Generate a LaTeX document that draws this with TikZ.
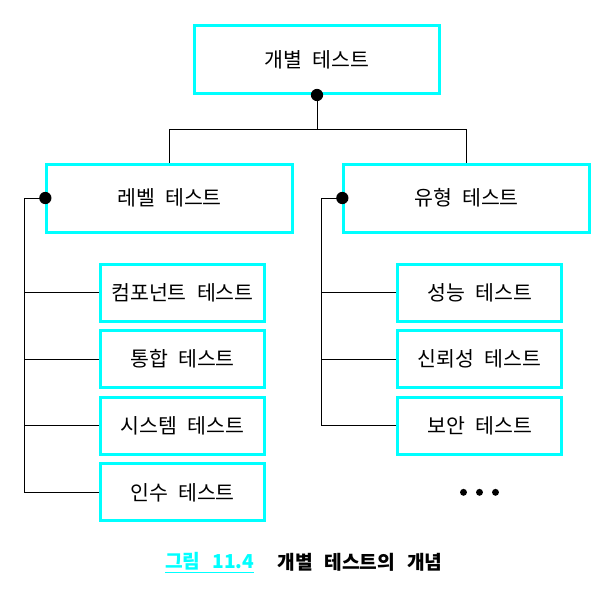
\documentclass[tikz,border=0pt]{standalone}
\usepackage{fontspec}
\setmainfont{Noto Sans CJK KR}
\usetikzlibrary{positioning}
\definecolor{boxcyan}{RGB}{0,255,255}
\newcommand{\boxfont}{\fontsize{15.4}{18}\selectfont\spaceskip=0.5em\relax}
\newcommand{\capfont}{\bfseries\fontsize{14.4}{16}\selectfont\spaceskip=0.62em\relax}
\tikzstyle{bigbox} = [rectangle, draw=boxcyan, line width=2.25pt,
    minimum width=184pt, minimum height=51pt, inner sep=0pt, font=\boxfont]
\tikzstyle{smallbox} = [bigbox, minimum width=123.2pt, minimum height=42.75pt]
\tikzstyle{line} = [draw, line width=0.75pt]
\tikzstyle{joint} = [fill=black]
\tikzstyle{caption} = [font=\capfont]

\begin{document}
\begin{tikzpicture}[x=0.75pt, y=-0.75pt, node distance=4.95pt]
	\useasboundingbox (0,0) rectangle (616,593);

	\node [bigbox] (unit) at (317,59.5) {개별 테스트};

	\node [bigbox] (level) at (169.5,198) {레벨 테스트};
	\node [bigbox] (kind) at (466.5,198) {유형 테스트};

	\node [smallbox] (component) at (182.5,292.5) {컴포넌트 테스트};
	\node [smallbox, below=of component] (integration) {통합 테스트};
	\node [smallbox, below=of integration] (system) {시스템 테스트};
	\node [smallbox, below=of system] (acceptance) {인수 테스트};

	\node [smallbox] (performance) at (479.7,292.5) {성능 테스트};
	\node [smallbox, below=of performance] (reliability) {신뢰성 테스트};
	\node [smallbox, below=of reliability] (security) {보안 테스트};

	\path [line] (unit.south) -- ++(0,34) coordinate (split);
	\path [line] (split) -| (level.north);
	\path [line] (split) -| (kind.north);

	\path [line] (level.west) -- ++(-21,0) coordinate (levelbus);
	\foreach \c in {component,integration,system,acceptance}
		\path [line] (levelbus) |- (\c.west);

	\path [line] (kind.west) -- ++(-20.5,0) coordinate (kindbus);
	\foreach \c in {performance,reliability,security}
		\path [line] (kindbus) |- (\c.west);

	\fill [joint] (unit.south) circle (4.6pt);
	\fill [joint] (level.west) circle (4.6pt);
	\fill [joint] (kind.west) circle (4.6pt);

	\foreach \x in {463.5,479.5,495.5}
		\fill [joint] (\x,492.3) circle (2.6pt);

	\node [caption, text=boxcyan] (fignum) at (209.7,562.5) {\underline{그림 11.4}};
	\node [caption] (figtitle) at (360,562.5) {개별 테스트의 개념};
\end{tikzpicture}
\end{document}
